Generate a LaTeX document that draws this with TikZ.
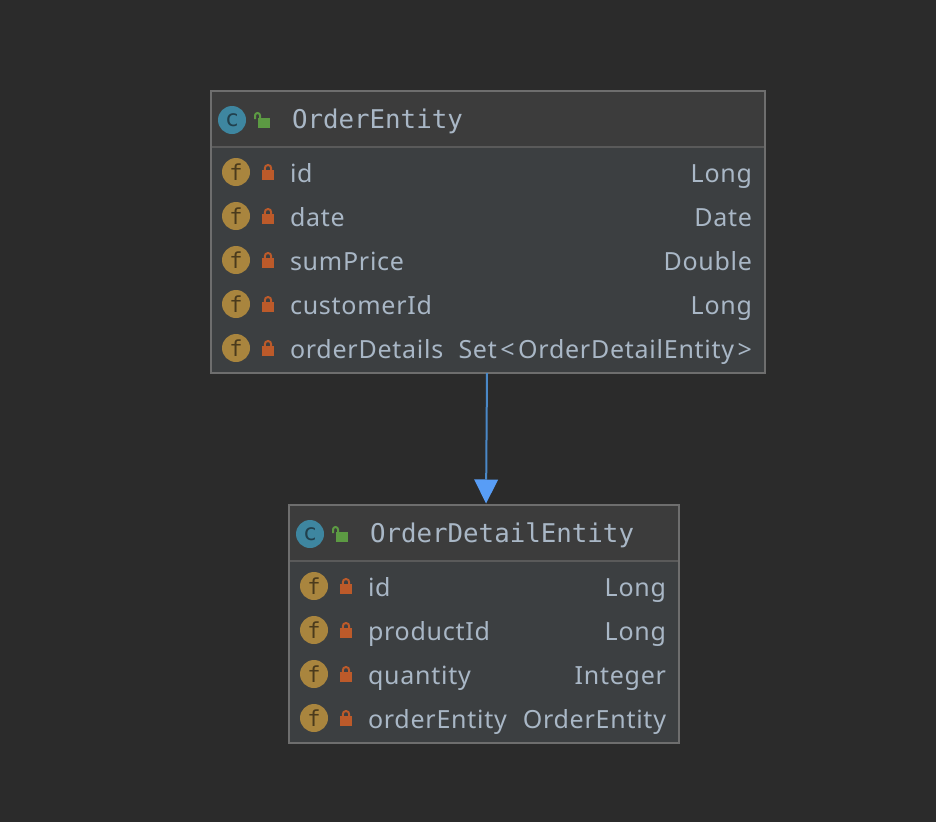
\documentclass[tikz,border=0pt]{standalone}
\usepackage{fontspec}
\setmainfont[LetterSpace=3]{Noto Sans}
\setmonofont{DejaVu Sans Mono}
\usetikzlibrary{positioning,arrows.meta}
\definecolor{canvasbg}{HTML}{2B2B2B}
\definecolor{headbg}{HTML}{3C3C3C}
\definecolor{bodybg}{HTML}{3C3F41}
\definecolor{boxline}{HTML}{6E6E6E}
\definecolor{headline}{HTML}{5A5A5A}
\definecolor{labeltext}{HTML}{A9B7C6}
\definecolor{classblue}{HTML}{3E86A0}
\definecolor{classmark}{HTML}{21404D}
\definecolor{fieldgold}{HTML}{A9853E}
\definecolor{fieldmark}{HTML}{4A3A1C}
\definecolor{lockred}{HTML}{BC5A2A}
\definecolor{lockgreen}{HTML}{5C9A43}
\definecolor{linkblue}{HTML}{4A88C7}
\definecolor{tipblue}{HTML}{589DF6}
\newcommand{\anglegap}{\kern3.5pt}
\tikzset{
    every node/.style = {
        inner sep = 0pt,
        outer sep = 0pt
    },
    entity/.style = {
        anchor = north west,
        draw = boxline,
        line width = 2pt,
        fill = bodybg
    },
    entity head/.style = {
        anchor = north west,
        fill = headbg,
        minimum height = 55pt
    },
    class icon/.style = {
        circle,
        fill = classblue,
        text = classmark,
        minimum size = 28pt,
        font = \ttfamily\fontsize{23}{23}\selectfont
    },
    field icon/.style = {
        circle,
        fill = fieldgold,
        text = fieldmark,
        minimum size = 28pt,
        font = \ttfamily\fontsize{22}{22}\selectfont
    },
    title/.style = {
        anchor = west,
        text = labeltext,
        font = \ttfamily\fontsize{25.8}{26}\selectfont
    },
    field/.style = {
        anchor = base west,
        text = labeltext,
        font = \fontsize{25}{26}\selectfont
    },
    ftype/.style = {
        anchor = base east,
        text = labeltext,
        font = \fontsize{25}{26}\selectfont
    },
    link/.style = {
        -{Triangle[length=24pt,width=24pt,line width=0pt,color=tipblue]},
        draw = linkblue,
        line width = 2pt,
        shorten > = 1.5pt
    },
    lock closed/.pic = {
        \fill [lockred] (-6,-2) rectangle (6,8);
        \draw [lockred, line width = 2pt] (-3.2,-2) -- (-3.2,-3.8)
            arc [start angle = 180, end angle = 360, radius = 3.2] -- (3.2,-2);
    },
    lock open/.pic = {
        \fill [lockgreen] (-6,-2) rectangle (6,8);
        \draw [lockgreen, line width = 2pt] (-9,-1) -- (-9,-4.5)
            arc [start angle = 180, end angle = 360, radius = 2.5] -- (-4,-2);
    }
}
\begin{document}
\begin{tikzpicture}[x = 1pt, y = -1pt]
    \useasboundingbox [fill = canvasbg] (0,0) rectangle (936,822);
    % upper class
    \node (orderEntity) at (211,91) [entity, minimum width=554pt, minimum height=282pt]{};
    \node (orderEntityHead) at (212,92) [entity head, minimum width=552pt]{};
    \draw [headline, line width = 2pt] (orderEntityHead.south west) -- (orderEntityHead.south east);
    \node (orderEntityIcon) at (232,120) [class icon]{c};
    \pic at (264,120) {lock open};
    \node (orderEntityTitle) at (292,121) [title]{OrderEntity};
    \foreach \fname/\ftype [count=\i] in {id/Long, date/Date, sumPrice/Double,
        customerId/Long, orderDetails/Set\anglegap<\anglegap OrderDetailEntity\anglegap>}{
        \node (orderIcon\i) at (236,128+44*\i) [field icon]{f};
        \pic at (268,128+44*\i) {lock closed};
        \node (orderField\i) at (290,138+44*\i) [field]{\fname};
        \node (orderType\i) at (752,138+44*\i) [ftype]{\ftype};
    }
    % lower class
    \node (orderDetailEntity) at (289,505) [entity, minimum width=390pt, minimum height=238pt]{};
    \node (orderDetailEntityHead) at (290,506) [entity head, minimum width=388pt]{};
    \draw [headline, line width = 2pt] (orderDetailEntityHead.south west) -- (orderDetailEntityHead.south east);
    \node (orderDetailEntityIcon) at (310,534) [class icon]{c};
    \pic at (342,534) {lock open};
    \node (orderDetailEntityTitle) at (370,535) [title]{OrderDetailEntity};
    \foreach \fname/\ftype [count=\i] in {id/Long, productId/Long, quantity/Integer,
        orderEntity/OrderEntity}{
        \node (detailIcon\i) at (314,542+44*\i) [field icon]{f};
        \pic at (346,542+44*\i) {lock closed};
        \node (detailField\i) at (368,552+44*\i) [field]{\fname};
        \node (detailType\i) at (666,552+44*\i) [ftype]{\ftype};
    }
    \draw [link] ([xshift=-1pt]orderEntity.south) -- ([xshift=2pt]orderDetailEntity.north);
\end{tikzpicture}
\end{document}
